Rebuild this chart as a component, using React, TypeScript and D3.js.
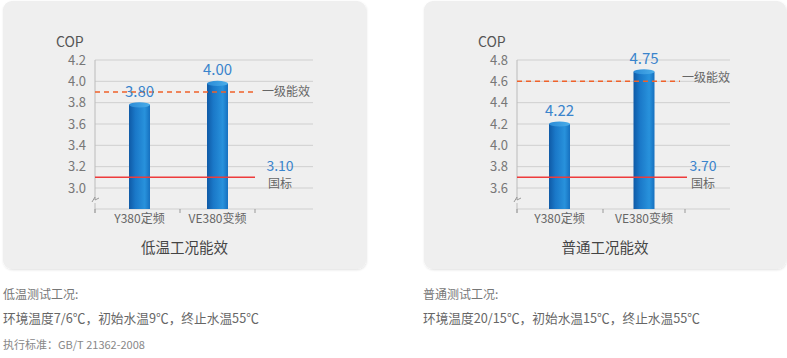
import React from "react";
import * as d3 from "d3";

const categories = ["Y380定频", "VE380变频"];
const lowTempLabels = [3.8, 4.0];
const lowTempBars = [3.78, 3.98];
const normalLabels = [4.22, 4.75];
const normalBars = [4.2, 4.69];
const lowTicks = [3.0, 3.2, 3.4, 3.6, 3.8, 4.0, 4.2];
const normalTicks = [3.6, 3.8, 4.0, 4.2, 4.4, 4.6, 4.8];
const lowFirstLevel = 3.9;
const lowNational = 3.1;
const normalFirstLevel = 4.6;
const normalNational = 3.7;

const FONT = "'Noto Sans CJK SC', 'Noto Sans', sans-serif";

type PanelProps = {
  title: string;
  labels: number[];
  bars: number[];
  ticks: number[];
  firstLevel: number;
  national: number;
  axisX: number;
  gridEnd: number;
  barCenters: number[];
  tickXs: number[];
  dashEnd: number;
  redEnd: number;
  firstTextX: number;
  firstTextDy: number;
  refTextX: number;
  titleX: number;
  id: string;
};

function Panel(p: PanelProps) {
  const y = d3
    .scaleLinear()
    .domain([d3.min(p.ticks)!, d3.max(p.ticks)!])
    .range([188, 60]);
  const base = 209;
  const barW = 21;
  const fmt = d3.format(".2f");
  const tf = d3.format(".1f");
  return (
    <g>
      <defs>
        <linearGradient id={`bar-${p.id}`} x1="0" x2="1" y1="0" y2="0">
          <stop offset="0" stopColor="#0f5aa6" />
          <stop offset="0.3" stopColor="#1a78c8" />
          <stop offset="0.75" stopColor="#2892dc" />
          <stop offset="1" stopColor="#1670bf" />
        </linearGradient>
        <linearGradient id={`top-${p.id}`} x1="0" x2="1" y1="0" y2="0">
          <stop offset="0" stopColor="#2a8ad6" />
          <stop offset="1" stopColor="#4aaeea" />
        </linearGradient>
      </defs>
      {p.ticks.map((t) => (
        <line
          key={t}
          x1={p.axisX}
          x2={p.gridEnd}
          y1={y(t)}
          y2={y(t)}
          stroke="#cfcfcf"
          strokeWidth={1}
        />
      ))}
      <line x1={p.axisX} x2={p.gridEnd} y1={base} y2={base} stroke="#cfcfcf" />
      <line x1={p.axisX} x2={p.axisX} y1={y(d3.max(p.ticks)!)} y2={197} stroke="#bbb" />
      <path
        d={`M${p.axisX - 3},${202} L${p.axisX},${197} L${p.axisX},${200} L${p.axisX + 4},${198}`}
        fill="none"
        stroke="#999"
      />
      <line x1={p.axisX} x2={p.axisX} y1={203} y2={base + 4} stroke="#bbb" />
      {p.tickXs.map((tx, i) => (
        <line key={i} x1={tx} x2={tx} y1={base} y2={base + 4} stroke="#999" />
      ))}
      {p.ticks.map((t) => (
        <text
          key={t}
          x={p.axisX - 9}
          y={y(t)}
          dy="0.35em"
          textAnchor="end"
          fontSize={13}
          fill="#777"
          fontFamily={FONT}
        >
          {tf(t)}
        </text>
      ))}
      <text x={p.axisX - 39} y={47} fontSize={14} fill="#555" fontFamily={FONT}>
        COP
      </text>
      {p.bars.map((v, i) => {
        const cx = p.barCenters[i];
        const top = y(v);
        return (
          <g key={i}>
            <rect
              x={cx - barW / 2}
              y={top}
              width={barW}
              height={base - top}
              fill={`url(#bar-${p.id})`}
            />
            <ellipse cx={cx} cy={top} rx={barW / 2} ry={2.6} fill={`url(#top-${p.id})`} />
          </g>
        );
      })}
      <line
        x1={p.axisX}
        x2={p.dashEnd}
        y1={y(p.firstLevel)}
        y2={y(p.firstLevel)}
        stroke="#f0622a"
        strokeWidth={1.5}
        strokeDasharray="5,4"
      />
      <line
        x1={p.axisX}
        x2={p.redEnd}
        y1={y(p.national)}
        y2={y(p.national)}
        stroke="#ee3b3b"
        strokeWidth={1.5}
      />
      <text
        x={p.firstTextX}
        y={y(p.firstLevel) + p.firstTextDy}
        dy="0.35em"
        fontSize={12}
        fill="#666"
        fontFamily={FONT}
      >
        一级能效
      </text>
      <text
        x={p.refTextX}
        y={y(p.national) - 6}
        textAnchor="middle"
        fontSize={14}
        fill="#3a84cc"
        fontFamily={FONT}
      >
        {fmt(p.national)}
      </text>
      <text
        x={p.refTextX}
        y={y(p.national) + 11}
        textAnchor="middle"
        fontSize={12}
        fill="#666"
        fontFamily={FONT}
      >
        国标
      </text>
      {p.labels.map((v, i) => (
        <text
          key={i}
          x={p.barCenters[i]}
          y={y(p.bars[i]) - 8}
          textAnchor="middle"
          fontSize={15}
          fill="#3a84cc"
          fontFamily={FONT}
        >
          {fmt(v)}
        </text>
      ))}
      {categories.map((c, i) => (
        <text
          key={c}
          x={p.barCenters[i]}
          y={223}
          textAnchor="middle"
          fontSize={12}
          fill="#666"
          fontFamily={FONT}
        >
          {c}
        </text>
      ))}
      <text
        x={p.titleX}
        y={253}
        textAnchor="middle"
        fontSize={14.5}
        fill="#444"
        fontFamily={FONT}
      >
        {p.title}
      </text>
    </g>
  );
}

export default function App() {
  return (
    <svg
      width={787}
      height={358}
      style={{ position: "absolute", left: 0, top: 0, background: "#fff" }}
      fontFamily={FONT}
    >
      <defs>
        <filter id="shadow" x="-5%" y="-5%" width="110%" height="110%">
          <feDropShadow dx="0.5" dy="1" stdDeviation="1.2" floodColor="#000" floodOpacity="0.12" />
        </filter>
      </defs>
      <rect x={3} y={1} width={363} height={268} rx={9} fill="#efefef" filter="url(#shadow)" />
      <rect x={424} y={1} width={362} height={268} rx={9} fill="#efefef" filter="url(#shadow)" />
      <Panel
        id="a"
        title="低温工况能效"
        labels={lowTempLabels}
        bars={lowTempBars}
        ticks={lowTicks}
        firstLevel={lowFirstLevel}
        national={lowNational}
        axisX={95}
        gridEnd={313}
        barCenters={[139.5, 217.5]}
        tickXs={[95, 180, 255]}
        dashEnd={255}
        redEnd={255}
        firstTextX={262}
        firstTextDy={0}
        refTextX={280}
        titleX={184.5}
      />
      <Panel
        id="b"
        title="普通工况能效"
        labels={normalLabels}
        bars={normalBars}
        ticks={normalTicks}
        firstLevel={normalFirstLevel}
        national={normalNational}
        axisX={517}
        gridEnd={730}
        barCenters={[559.5, 644]}
        tickXs={[517, 603, 685]}
        dashEnd={680}
        redEnd={687}
        firstTextX={682}
        firstTextDy={-4}
        refTextX={703}
        titleX={605}
      />
      <text x={3} y={299} fontSize={12} fill="#777">
        低温测试工况:
      </text>
      <text x={3} y={323} fontSize={12.7} fill="#666">
        环境温度7/6℃，初始水温9℃，终止水温55℃
      </text>
      <text x={3} y={349} fontSize={11} fill="#888">
        执行标准：GB/T 21362-2008
      </text>
      <text x={423} y={299} fontSize={12} fill="#777">
        普通测试工况:
      </text>
      <text x={423} y={323} fontSize={12.7} fill="#666">
        环境温度20/15℃，初始水温15℃，终止水温55℃
      </text>
    </svg>
  );
}
